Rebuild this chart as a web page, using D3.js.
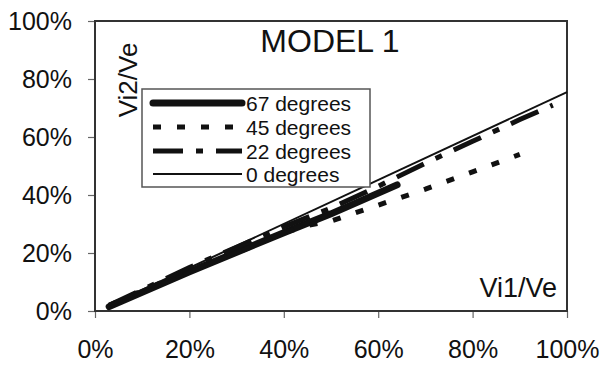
<!DOCTYPE html>
<html>
<head>
<meta charset="utf-8">
<script src="https://cdn.jsdelivr.net/npm/d3@7"></script>
<style>
  html, body { margin: 0; padding: 0; background: #fff; }
  svg { display: block; font-family: "Liberation Sans", Arial, sans-serif; }
</style>
</head>
<body>
<svg id="chart" width="603" height="365"></svg>
<script>
// tick values (percent)
const xTicks = [0, 20, 40, 60, 80, 100];
const yTicks = [0, 20, 40, 60, 80, 100];

// series (Vi1/Ve, Vi2/Ve in %)
const seriesNames = ["67 degrees", "45 degrees", "22 degrees", "0 degrees"];
const deg67X = [3, 20, 40, 50, 64];
const deg67Y = [1.5, 13.5, 27, 33.5, 43.5];
const deg45X = [3, 10, 20, 30, 40, 45, 50, 60, 70, 80, 90];
const deg45Y = [2, 7, 14, 20, 27, 29.5, 31, 36.5, 42, 48, 54];
const deg22X = [3, 20, 40, 50, 60, 70, 80, 90, 97];
const deg22Y = [2, 15, 29, 35.5, 43, 51, 58.5, 66, 71];
const deg0X = [3, 100];
const deg0Y = [2, 75.5];

const svg = d3.select("#chart");
const margin = { top: 21, right: 36, bottom: 54, left: 95 };
const W = 603, H = 365;
const innerW = W - margin.left - margin.right;
const innerH = H - margin.top - margin.bottom;
const root = svg.append("g").attr("transform", `translate(${margin.left},${margin.top})`);

const x = d3.scaleLinear().domain([0, 100]).range([0, innerW]);
const y = d3.scaleLinear().domain([0, 100]).range([innerH, 0]);

// axes
const gx = root.append("g").attr("transform", `translate(0,${innerH})`)
  .call(d3.axisBottom(x).tickValues(xTicks).tickFormat((d) => d + "%").tickSize(7).tickPadding(22));
gx.select(".domain").remove();
gx.selectAll("line").attr("stroke", "#666").attr("stroke-width", 1.2);
gx.selectAll("text").attr("fill", "#111").style("font-size", "25px");

const gy = root.append("g")
  .call(d3.axisLeft(y).tickValues(yTicks).tickFormat((d) => d + "%").tickSize(7).tickPadding(16));
gy.select(".domain").remove();
gy.selectAll("line").attr("stroke", "#666").attr("stroke-width", 1.2);
gy.selectAll("text").attr("fill", "#111").style("font-size", "25px").attr("dy", "0.34em");

// frame
root.append("rect")
  .attr("x", 0).attr("y", 0).attr("width", innerW).attr("height", innerH)
  .attr("fill", "none").attr("stroke", "#333").attr("stroke-width", 2);

// series
const styles = [
  { xs: deg67X, ys: deg67Y, width: 7, dash: null, cap: "round" },
  { xs: deg45X, ys: deg45Y, width: 5, dash: "8,16", cap: "butt" },
  { xs: deg22X, ys: deg22Y, width: 5, dash: "30,13,7,13", cap: "butt" },
  { xs: deg0X, ys: deg0Y, width: 2, dash: null, cap: "butt" },
];

const line = d3.line().x((d) => x(d[0])).y((d) => y(d[1]));
const linesLayer = root.append("g");
styles.forEach((s) => {
  linesLayer.append("path")
    .datum(s.xs.map((v, i) => [v, s.ys[i]]))
    .attr("d", line)
    .attr("fill", "none")
    .attr("stroke", "#111")
    .attr("stroke-width", s.width)
    .attr("stroke-linecap", s.cap)
    .attr("stroke-dasharray", s.dash);
});

// title and axis captions
svg.append("text").attr("x", 330).attr("y", 52).attr("text-anchor", "middle")
  .style("font-size", "32px").attr("fill", "#111").text("MODEL 1");
svg.append("text").attr("transform", "translate(137,80) rotate(-90)").attr("text-anchor", "middle")
  .style("font-size", "26px").attr("fill", "#111").text("Vi2/Ve");
svg.append("text").attr("x", 557).attr("y", 297).attr("text-anchor", "end")
  .style("font-size", "27px").attr("fill", "#111").text("Vi1/Ve");

// legend
const legend = svg.append("g").attr("transform", "translate(142,89)");
legend.append("rect").attr("width", 228).attr("height", 98)
  .attr("fill", "#fff").attr("stroke", "#555").attr("stroke-width", 1.5);
const rowY = [14, 38, 62, 85];
seriesNames.forEach((name, i) => {
  const s = styles[i];
  legend.append("line")
    .attr("x1", 11).attr("x2", 100).attr("y1", rowY[i]).attr("y2", rowY[i])
    .attr("stroke", "#111").attr("stroke-width", s.width)
    .attr("stroke-linecap", s.cap).attr("stroke-dasharray", s.dash);
  legend.append("text").attr("x", 104).attr("y", rowY[i] + 8)
    .style("font-size", "21px").attr("fill", "#111").text(name);
});
</script>
</body>
</html>
